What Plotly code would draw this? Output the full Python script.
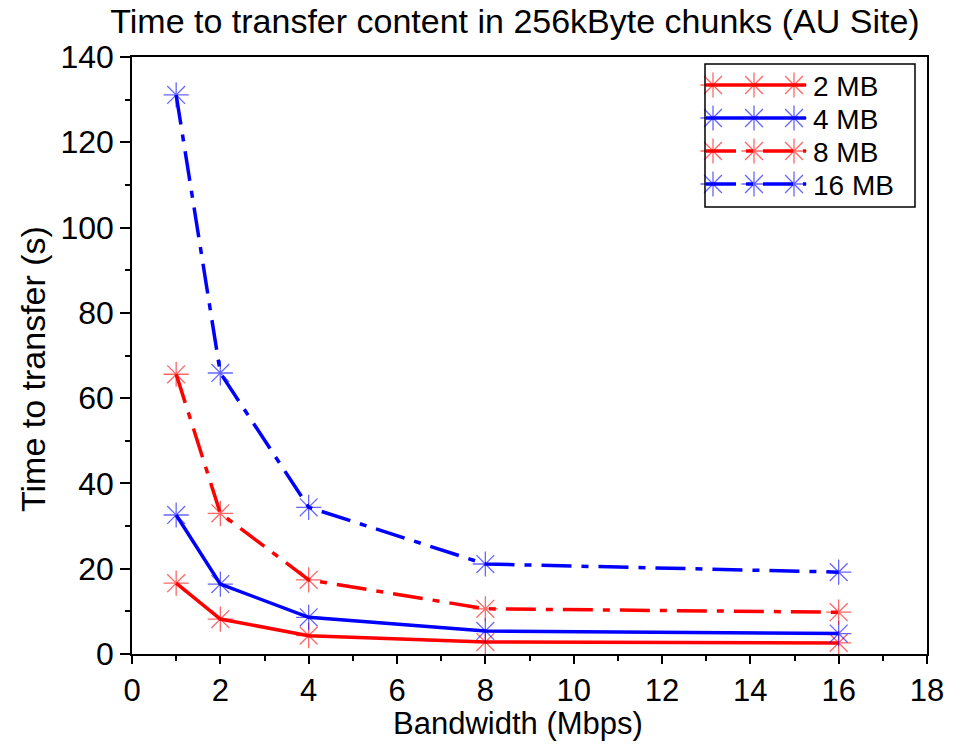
import plotly.graph_objects as go

bandwidth = [1, 2, 4, 8, 16]
t_2mb = [16.6, 8.2, 4.3, 2.8, 2.6]
t_4mb = [32.6, 16.4, 8.6, 5.4, 4.8]
t_8mb = [65.6, 33.0, 17.4, 10.6, 9.8]
t_16mb = [131.1, 65.9, 34.4, 21.1, 19.2]

names = ["2 MB", "4 MB", "8 MB", "16 MB"]
values = [t_2mb, t_4mb, t_8mb, t_16mb]
colors = ["red", "blue", "red", "blue"]
marker_colors = ["rgba(255,0,0,0.6)", "rgba(0,0,255,0.6)", "rgba(255,0,0,0.6)", "rgba(0,0,255,0.6)"]
DASHDOT = "30px,10px,7px,10px"
dashes = ["solid", "solid", DASHDOT, DASHDOT]

FONT = "Liberation Sans, Arial, sans-serif"

# plot frame in screen pixels (left, right, top, bottom)
PX_L, PX_R, PX_T, PX_B = 132, 927, 57, 654


def px_to_paper(px, py):
    return (px - PX_L) / (PX_R - PX_L), (PX_B - py) / (PX_B - PX_T)


def star(mcol):
    return dict(symbol="asterisk-open", size=21, color=mcol, line=dict(color=mcol, width=1.3))


fig = go.Figure()
for name, vals, color, mcol, dash in zip(names, values, colors, marker_colors, dashes):
    fig.add_trace(go.Scatter(
        x=bandwidth, y=vals, name=name, mode="lines+markers", showlegend=False,
        line=dict(color=color, width=3.5, dash=dash),
        marker=star(mcol),
    ))

# Legend drawn on an overlay axis measured in screen pixels (x right, y down)
LEG_X = [713, 754, 794]
LEG_ROW0, LEG_DY = 85, 33
for i, (name, color, mcol, dash) in enumerate(zip(names, colors, marker_colors, dashes)):
    yrow = LEG_ROW0 + i * LEG_DY
    fig.add_trace(go.Scatter(
        x=[706] + LEG_X + [806], y=[yrow] * 5, xaxis="x2", yaxis="y2",
        mode="lines", showlegend=False, hoverinfo="skip",
        line=dict(color=color, width=3.5, dash=dash),
    ))
    fig.add_trace(go.Scatter(
        x=LEG_X, y=[yrow] * 3, xaxis="x2", yaxis="y2",
        mode="markers", showlegend=False, hoverinfo="skip",
        marker=star(mcol),
    ))
    fig.add_annotation(
        x=811, y=yrow + 1, xref="x2", yref="y2", text=name, showarrow=False,
        xanchor="left", yanchor="middle", font=dict(family=FONT, size=28, color="black"),
    )

fig.add_shape(type="rect", xref="x2", yref="y2", x0=705, x1=915, y0=64, y1=207,
              line=dict(color="black", width=1.5), fillcolor="rgba(0,0,0,0)", layer="above")

# Axis titles, positioned in paper coordinates
xt_x, xt_y = px_to_paper(518, 723)
yt_x, yt_y = px_to_paper(33, 369)
fig.add_annotation(x=xt_x, y=xt_y, xref="paper", yref="paper", text="Bandwidth (Mbps)",
                   showarrow=False, xanchor="center", yanchor="middle",
                   font=dict(family=FONT, size=31, color="black"))
fig.add_annotation(x=yt_x, y=yt_y, xref="paper", yref="paper", text="Time to transfer (s)",
                   showarrow=False, xanchor="center", yanchor="middle", textangle=-90,
                   font=dict(family=FONT, size=34, color="black"))

fig.update_layout(
    width=968, height=744,
    paper_bgcolor="white", plot_bgcolor="white",
    margin=dict(l=PX_L, r=968 - PX_R, t=PX_T, b=744 - PX_B, autoexpand=False),
    font=dict(family=FONT, size=31, color="black"),
    title=dict(text="Time to transfer content in 256kByte chunks (AU Site)",
               x=0.532, xanchor="center", y=0.972, yanchor="middle",
               font=dict(family=FONT, size=34)),
    showlegend=False,
    xaxis2=dict(overlaying="x", range=[PX_L, PX_R], visible=False, fixedrange=True),
    yaxis2=dict(overlaying="y", range=[PX_B, PX_T], visible=False, fixedrange=True),
)

fig.layout.xaxis.update(
    range=[0, 18], tickvals=list(range(0, 19, 2)), automargin=False,
    showline=True, linecolor="black", linewidth=1.5, mirror=True,
    ticks="outside", ticklen=8, tickcolor="black", tickwidth=1.5,
    tickfont=dict(family=FONT, size=31),
    minor=dict(tickvals=list(range(1, 18, 2)), ticks="outside", ticklen=5, tickcolor="black"),
    showgrid=False, zeroline=False,
)
fig.layout.yaxis.update(
    range=[0, 140], tickvals=list(range(0, 141, 20)), automargin=False,
    showline=True, linecolor="black", linewidth=1.5, mirror=True,
    ticks="outside", ticklen=10, tickcolor="black", tickwidth=1.5,
    tickfont=dict(family=FONT, size=32),
    minor=dict(tickvals=list(range(10, 140, 20)), ticks="outside", ticklen=5, tickcolor="black"),
    showgrid=False, zeroline=False,
)

fig.write_html("out.html")
